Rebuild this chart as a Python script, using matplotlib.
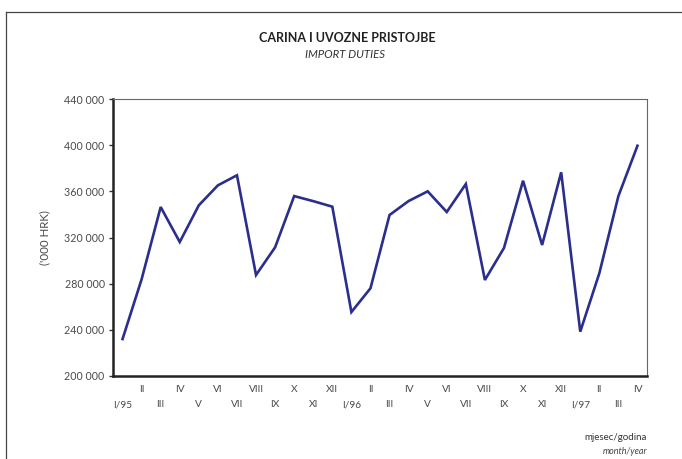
import numpy as np
import matplotlib.pyplot as plt
from matplotlib.lines import Line2D

# monthly values, I/95 .. IV/97 ('000 HRK)
months = ['I/95', 'II', 'III', 'IV', 'V', 'VI', 'VII', 'VIII', 'IX', 'X', 'XI', 'XII',
          'I/96', 'II', 'III', 'IV', 'V', 'VI', 'VII', 'VIII', 'IX', 'X', 'XI', 'XII',
          'I/97', 'II', 'III', 'IV']
duties = [232000, 283800, 346400, 316100, 347900, 365200, 373900, 287500, 311500,
          355900, 351500, 346700, 255400, 276000, 339500, 351600, 360000, 342100,
          366300, 283200, 310900, 369200, 313500, 376500, 238400, 289000, 355900,
          399500]
y_ticks = [200000, 240000, 280000, 320000, 360000, 400000, 440000]

plt.rcParams['font.family'] = ['Lato', 'DejaVu Sans']

fig = plt.figure(figsize=(6.82, 4.59), dpi=100)
ax = fig.add_axes([113 / 682, 1 - 376 / 459, (647 - 113) / 682, (376 - 99) / 459])

x = np.arange(len(months))
ax.plot(x, duties, color='#2b2e8c', linewidth=1.9, solid_joinstyle='miter')

ax.set_xlim(-0.5, 27.5)
ax.set_ylim(200000, 440000)
ax.set_yticks(y_ticks)
ax.set_yticklabels([f'{v:,}'.replace(',', ' ') for v in y_ticks], fontsize=7.7, color='#4a4a4a')
ax.tick_params(axis='y', length=3, width=1, color='#333333', pad=3)

ax.set_xticks([])
for i, lab in enumerate(months):
    yy = -0.05 if i % 2 else -0.103
    ax.text(i, yy, lab, transform=ax.get_xaxis_transform(), ha='center', va='center',
            fontsize=7.3, color='#4a4a4a')

for side in ['left', 'bottom']:
    ax.spines[side].set_linewidth(1.8)
    ax.spines[side].set_color('#222222')
for side in ['top', 'right']:
    ax.spines[side].set_linewidth(0.8)
    ax.spines[side].set_color('#666666')

ax.set_ylabel("('000 HRK)", fontsize=8.3, color='#4a4a4a', labelpad=10)

fig.text(347 / 682, 1 - 38 / 459, 'CARINA I UVOZNE PRISTOJBE', ha='center', va='center',
         fontsize=9, fontweight='bold', color='#222222')
fig.text(345 / 682, 1 - 54 / 459, 'IMPORT DUTIES', ha='center', va='center',
         fontsize=8.2, style='italic', color='#333333')
fig.text(647 / 682, 1 - 438 / 459, 'mjesec/godina', ha='right', va='center',
         fontsize=7, color='#333333')
fig.text(647 / 682, 1 - 452 / 459, 'month/year', ha='right', va='center',
         fontsize=6.5, style='italic', color='#444444')

# page frame
fig.add_artist(Line2D([6 / 682, 1], [1 - 12 / 459, 1 - 12 / 459], color='#444444', linewidth=0.9))
fig.add_artist(Line2D([6 / 682, 6 / 682], [0, 1 - 12 / 459], color='#444444', linewidth=0.9))

fig.savefig('out.png', dpi=100)
